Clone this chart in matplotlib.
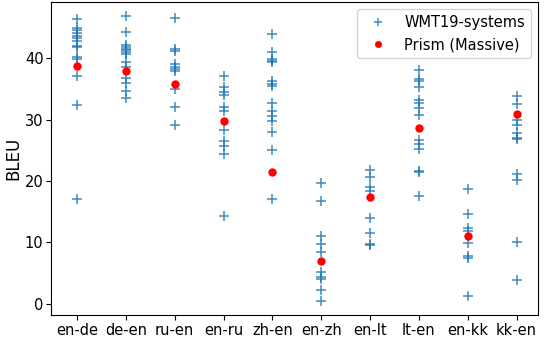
import matplotlib
matplotlib.use("Agg")
import matplotlib.pyplot as plt
import numpy as np

pairs = ["en-de", "de-en", "ru-en", "en-ru", "zh-en", "en-zh", "en-lt", "lt-en", "en-kk", "kk-en"]

# WMT19 system BLEU scores per language pair
wmt19 = [
    [46.4, 45.0, 44.6, 44.2, 43.7, 43.4, 42.8, 42.1, 41.9, 40.3, 39.9, 37.2, 32.4, 17.1],
    [46.9, 44.3, 42.2, 41.9, 41.6, 41.3, 41.0, 40.8, 39.4, 38.6, 36.8, 36.0, 34.7, 33.6],
    [46.6, 41.5, 41.2, 39.1, 38.6, 38.2, 38.0, 35.0, 32.0, 29.1],
    [37.2, 35.4, 34.6, 34.1, 32.0, 31.4, 28.4, 26.6, 25.8, 24.4, 14.3],
    [44.0, 41.0, 39.9, 39.6, 39.4, 36.3, 35.9, 35.5, 32.7, 31.4, 30.6, 29.8, 28.0, 25.1, 17.1],
    [19.7, 16.7, 11.1, 9.8, 8.5, 5.1, 4.3, 4.0, 2.3, 0.5],
    [21.8, 20.7, 19.0, 18.3, 13.9, 11.6, 9.8, 9.5],
    [38.1, 36.7, 36.3, 35.4, 33.3, 32.7, 31.9, 30.7, 26.7, 26.0, 25.2, 21.6, 21.4, 17.5],
    [18.7, 14.6, 12.3, 11.9, 9.9, 7.8, 7.5, 1.2],
    [33.9, 32.5, 30.0, 29.2, 27.9, 27.1, 26.8, 21.2, 20.2, 10.0, 3.8],
]

# Prism (Massive) BLEU
prism = [38.7, 37.9, 35.9, 29.8, 21.4, 7.0, 17.4, 28.7, 11.1, 30.9]

fig, ax = plt.subplots(figsize=(5.44, 3.42), dpi=100)

xs = []
ys = []
for i, vals in enumerate(wmt19):
    xs += [i] * len(vals)
    ys += vals
ax.plot(xs, ys, "+", color="tab:blue", alpha=0.85, markersize=7, markeredgewidth=1.1,
        label="WMT19-systems")
ax.plot(range(len(pairs)), prism, "o", color="red", markersize=5, label="Prism (Massive)")

ax.set_xticks(range(len(pairs)))
ax.set_xticklabels(pairs)
ax.set_yticks([0, 10, 20, 30, 40])
ax.tick_params(labelsize=10.5, length=3.5, pad=2)
ax.set_ylabel("BLEU", fontsize=12, labelpad=2)
ax.set_xlim(-0.53, 9.44)
ax.set_ylim(-1.9, 49.2)
ax.legend(loc="upper right", fontsize=10.5, markerscale=0.8)

fig.subplots_adjust(left=0.094, right=0.989, top=0.994, bottom=0.078)
fig.savefig("out.png")
